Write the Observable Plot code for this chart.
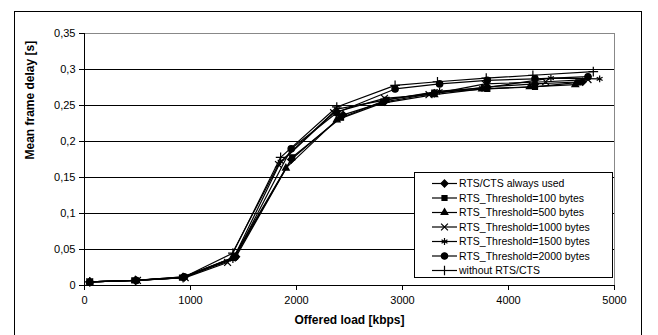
<!DOCTYPE html>
<html>
<head>
<meta charset="utf-8">
<script src="https://cdn.jsdelivr.net/npm/d3@7"></script>
<script src="https://cdn.jsdelivr.net/npm/@observablehq/plot@0.6"></script>
<style>
  html, body { margin: 0; padding: 0; background: #fff; }
  #chart { position: relative; width: 658px; height: 335px; overflow: hidden; }
</style>
</head>
<body>
<div id="chart"></div>
<script>
// ---- data ----
const seriesNames = [
  "RTS/CTS always used",
  "RTS_Threshold=100 bytes",
  "RTS_Threshold=500 bytes",
  "RTS_Threshold=1000 bytes",
  "RTS_Threshold=1500 bytes",
  "RTS_Threshold=2000 bytes",
  "without RTS/CTS"
];
const symbols = ["diamond2", "square2", "triangle2", "times", "asterisk", "circle", "plus"];

const loadAlways = [50, 490, 940, 1430, 1950, 2440, 2830, 3300, 3800, 4250, 4700];
const delayAlways = [0.005, 0.007, 0.011, 0.040, 0.175, 0.237, 0.255, 0.267, 0.276, 0.280, 0.283];

const load100 = [50, 470, 920, 1420, 1960, 2420, 2850, 3300, 3800, 4250, 4660];
const delay100 = [0.005, 0.007, 0.011, 0.040, 0.178, 0.233, 0.258, 0.268, 0.273, 0.276, 0.282];

const load500 = [50, 480, 930, 1400, 1900, 2380, 2800, 3300, 3750, 4200, 4630];
const delay500 = [0.005, 0.007, 0.011, 0.038, 0.163, 0.230, 0.253, 0.265, 0.273, 0.276, 0.279];

const load1000 = [50, 500, 950, 1350, 1830, 2350, 2830, 3250, 3780, 4350, 4750];
const delay1000 = [0.005, 0.007, 0.011, 0.032, 0.168, 0.240, 0.260, 0.265, 0.280, 0.283, 0.286];

const load1500 = [50, 480, 930, 1400, 1850, 2380, 2820, 3350, 3750, 4400, 4860];
const delay1500 = [0.005, 0.007, 0.012, 0.036, 0.172, 0.245, 0.257, 0.270, 0.274, 0.288, 0.287];

const load2000 = [50, 490, 940, 1420, 1950, 2380, 2930, 3350, 3800, 4250, 4750];
const delay2000 = [0.005, 0.007, 0.012, 0.040, 0.190, 0.240, 0.273, 0.280, 0.285, 0.287, 0.290];

const loadWithout = [50, 480, 930, 1400, 1850, 2380, 2930, 3330, 3790, 4230, 4800];
const delayWithout = [0.005, 0.007, 0.011, 0.045, 0.178, 0.248, 0.278, 0.283, 0.288, 0.292, 0.297];

const xTicks = [0, 1000, 2000, 3000, 4000, 5000];
const yTicks = [0, 0.05, 0.1, 0.15, 0.2, 0.25, 0.3, 0.35];
const xLabel = "Offered load [kbps]";
const yLabel = "Mean frame delay [s]";

// ---- build table ----
const loads = [loadAlways, load100, load500, load1000, load1500, load2000, loadWithout];
const delays = [delayAlways, delay100, delay500, delay1000, delay1500, delay2000, delayWithout];
const data = [];
seriesNames.forEach((name, i) => {
  loads[i].forEach((x, j) => data.push({series: name, load: x, delay: delays[i][j]}));
});

const font = "'Liberation Sans', Arial, sans-serif";
const fmtY = d => String(+d.toFixed(2)).replace(".", ",");
const fmtX = d => String(d);

const plot = Plot.plot({
  width: 658,
  height: 335,
  marginLeft: 84,
  marginRight: 44,
  marginTop: 33,
  marginBottom: 50,
  style: {fontFamily: font, fontSize: "11px", color: "#000", background: "#fff", overflow: "visible"},
  x: {domain: [0, 5000], label: null},
  y: {domain: [0, 0.35], label: null},
  symbol: {domain: seriesNames, range: symbols},
  marks: [
    Plot.ruleY(yTicks.filter(d => d > 0), {stroke: "#000", strokeWidth: 1}),
    Plot.frame({stroke: "#888", strokeWidth: 1}),
    Plot.axisX({ticks: xTicks, tickSize: 5, tickPadding: 6, tickFormat: fmtX, label: null, stroke: "#000"}),
    Plot.axisY({ticks: yTicks, tickSize: 5, tickPadding: 4, tickFormat: fmtY, label: null}),
    Plot.ruleX([0], {stroke: "#000"}),
    Plot.ruleY([0], {stroke: "#000"}),
    Plot.line(data, {x: "load", y: "delay", z: "series", stroke: "#000", strokeWidth: 1.2}),
    Plot.dot(data, {x: "load", y: "delay", symbol: "series", fill: "#000", stroke: "#000", strokeWidth: 1.2, r: 3.2}),
    Plot.text([xLabel], {frameAnchor: "bottom", dy: 38, fontWeight: "bold", fontSize: 12}),
    Plot.text([yLabel], {frameAnchor: "left", dx: -54, rotate: -90, fontWeight: "bold", fontSize: 12})
  ]
});

document.getElementById("chart").appendChild(plot);

// ---- outer frame & legend (layout only) ----
const svg = d3.select(plot);
svg.append("rect")
  .attr("x", 14.5).attr("y", 11.5).attr("width", 627).attr("height", 340)
  .attr("fill", "none").attr("stroke", "#000").attr("stroke-width", 1);

const lg = svg.append("g").attr("font-family", font).attr("font-size", "10.5px").attr("text-anchor", "start");
lg.append("rect")
  .attr("x", 414.5).attr("y", 172.5).attr("width", 198).attr("height", 105)
  .attr("fill", "#fff").attr("stroke", "#000").attr("stroke-width", 1);
const symbolMap = {
  diamond2: d3.symbolDiamond2, square2: d3.symbolSquare2, triangle2: d3.symbolTriangle2,
  times: d3.symbolTimes, asterisk: d3.symbolAsterisk, circle: d3.symbolCircle, plus: d3.symbolPlus
};
seriesNames.forEach((name, i) => {
  const y = 183.5 + i * 14.5;
  lg.append("line").attr("x1", 432).attr("x2", 457).attr("y1", y).attr("y2", y)
    .attr("stroke", "#000").attr("stroke-width", 1.2);
  lg.append("path")
    .attr("transform", `translate(444.5,${y})`)
    .attr("d", d3.symbol(symbolMap[symbols[i]], 32)())
    .attr("fill", "#000").attr("stroke", "#000").attr("stroke-width", 1.2);
  lg.append("text").attr("x", 459).attr("y", y).attr("dy", "0.35em").attr("text-anchor", "start").text(name);
});
</script>
</body>
</html>
